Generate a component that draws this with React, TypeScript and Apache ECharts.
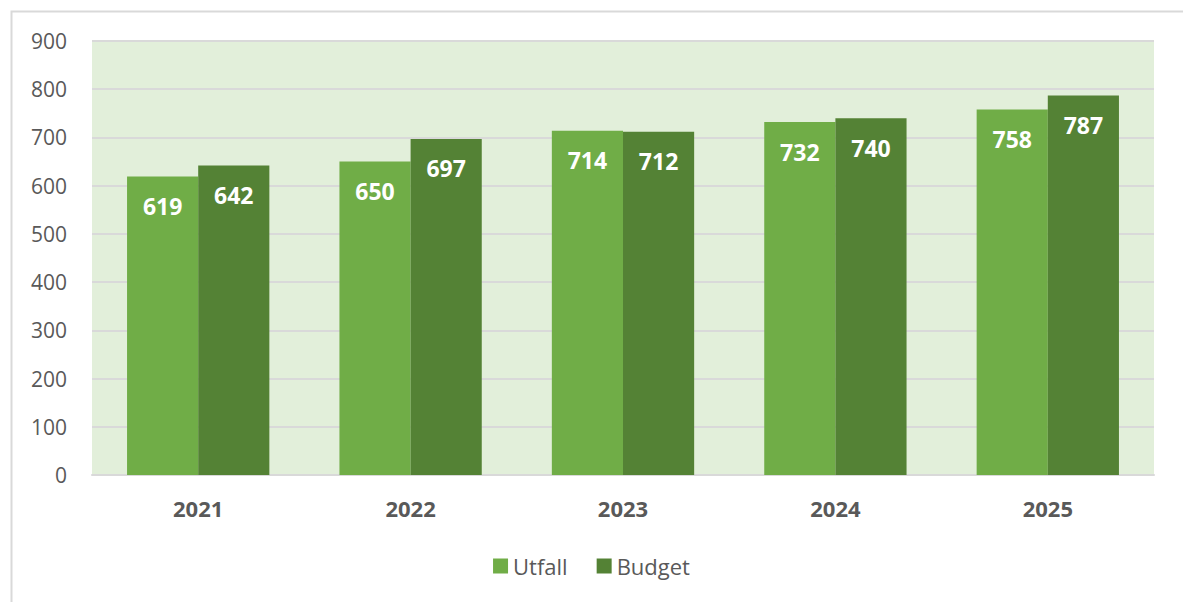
import React, { useEffect, useRef } from "react";
import * as echarts from "echarts";

const categories = ["2021", "2022", "2023", "2024", "2025"];
const utfall = [619, 650, 714, 732, 758];
const budget = [642, 697, 712, 740, 787];
const seriesNames = ["Utfall", "Budget"];

if (typeof document !== "undefined") {
  document.body.style.margin = "0";
}

export default function App() {
  const ref = useRef<HTMLDivElement>(null);
  useEffect(() => {
    if (!ref.current) return;
    const chart = echarts.init(ref.current, null, { renderer: "svg" });
    const font = "'Open Sans', 'Noto Sans', sans-serif";
    const label = {
      show: true,
      position: "insideTop",
      distance: 18,
      color: "#ffffff",
      fontSize: 23,
      fontWeight: "bold",
      fontFamily: font,
    };
    chart.setOption({
      animation: false,
      graphic: [
        {
          type: "rect",
          left: 9,
          top: 9,
          shape: { width: 1200, height: 620 },
          style: { fill: "none", stroke: "#d9d9d9", lineWidth: 2 },
          silent: true,
        },
      ],
      grid: {
        left: 92,
        right: 29,
        top: 41,
        bottom: 127,
        show: true,
        backgroundColor: "#E2EFDA",
        borderWidth: 0,
      },
      legend: {
        data: seriesNames,
        top: 550,
        left: "center",
        itemWidth: 15,
        itemHeight: 15,
        itemGap: 29,
        icon: "rect",
        textStyle: { fontSize: 22, color: "#595959", fontFamily: font },
      },
      xAxis: {
        type: "category",
        data: categories,
        axisLine: { show: true, lineStyle: { color: "#d9d9d9", width: 2 } },
        axisTick: { show: false },
        axisLabel: {
          margin: 22,
          fontSize: 22,
          fontWeight: "bold",
          color: "#595959",
          fontFamily: font,
        },
      },
      yAxis: {
        type: "value",
        min: 0,
        max: 900,
        interval: 100,
        axisLine: { show: false },
        axisTick: { show: false },
        splitLine: { lineStyle: { color: "#d9d9d9", width: 2 } },
        axisLabel: {
          margin: 25,
          fontSize: 21,
          color: "#595959",
          fontFamily: font,
        },
      },
      series: [
        {
          name: seriesNames[0],
          type: "bar",
          data: utfall,
          barGap: "0%",
          barCategoryGap: "33%",
          itemStyle: { color: "#70AD47" },
          label,
        },
        {
          name: seriesNames[1],
          type: "bar",
          data: budget,
          itemStyle: { color: "#548235" },
          label,
        },
      ],
    });
    return () => chart.dispose();
  }, []);
  return <div ref={ref} style={{ width: 1183, height: 602 }} />;
}
